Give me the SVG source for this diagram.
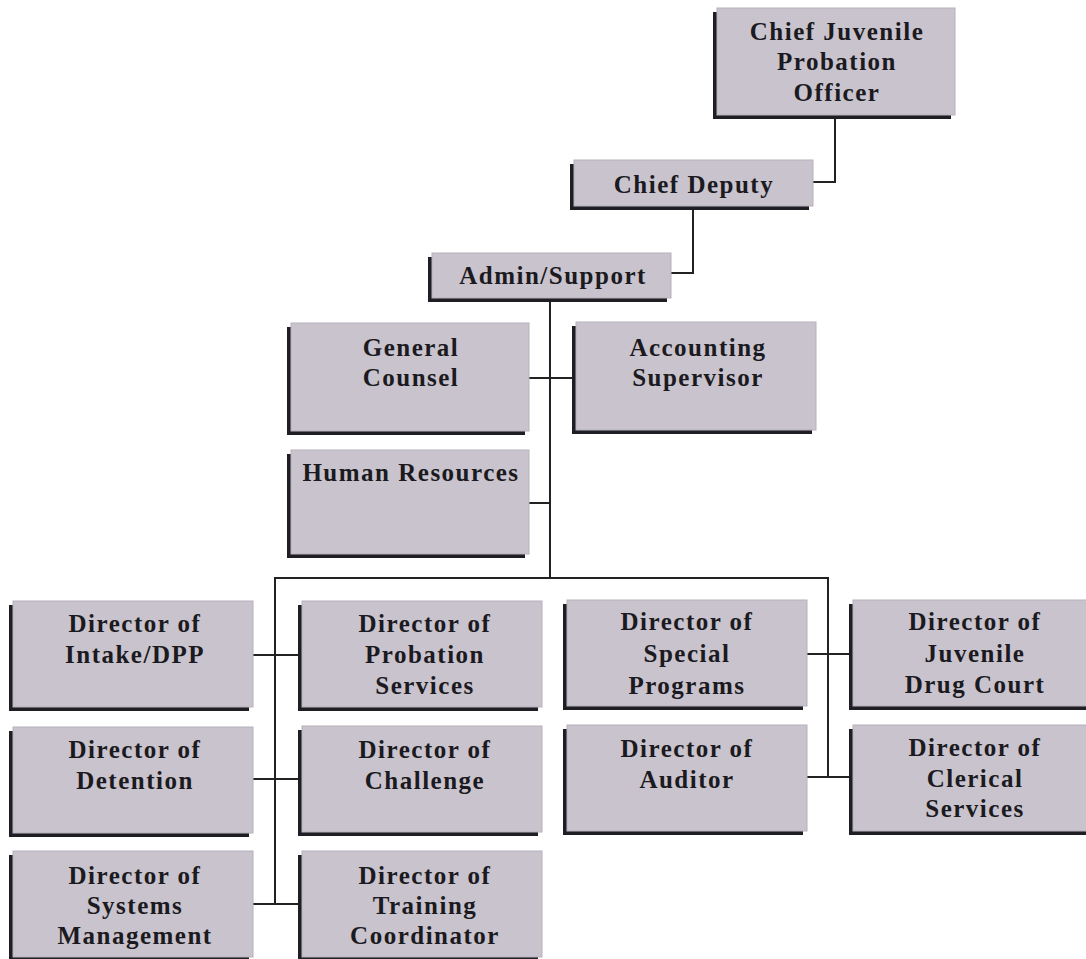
<svg xmlns="http://www.w3.org/2000/svg" width="1086" height="959" viewBox="0 0 1086 959">
<style>
.sh{fill:#1e1e24}
.bx{fill:#c9c3cd;stroke:#b7b1bb;stroke-width:1}
.t{font-family:"Liberation Serif","Times New Roman",serif;font-weight:bold;font-size:25px;letter-spacing:1.5px;fill:#1a1a20;text-anchor:middle}
.c{fill:none;stroke:#222;stroke-width:2}
</style>
<rect width="1086" height="959" fill="#ffffff"/>
<g id="connectors">
<polyline class="c" points="835,118 835,182 812,182"/>
<polyline class="c" points="693,208 693,273 670,273"/>
<line class="c" x1="550" y1="300" x2="550" y2="578"/>
<line class="c" x1="528" y1="378" x2="572" y2="378"/>
<line class="c" x1="528" y1="503" x2="550" y2="503"/>
<polyline class="c" points="275,904 275,578 828,578 828,777"/>
<line class="c" x1="252" y1="655" x2="298" y2="655"/>
<line class="c" x1="252" y1="779" x2="298" y2="779"/>
<line class="c" x1="252" y1="904" x2="298" y2="904"/>
<line class="c" x1="805" y1="654" x2="850" y2="654"/>
<line class="c" x1="805" y1="777" x2="850" y2="777"/>
</g>
<g id="chief-juvenile">
<rect class="sh" x="713" y="12" width="238" height="107"/>
<rect class="bx" x="717" y="8" width="238" height="107"/>
<text class="t" x="837" y="40">Chief Juvenile</text>
<text class="t" x="837" y="70">Probation</text>
<text class="t" x="837" y="101">Officer</text>
</g>
<g id="chief-deputy">
<rect class="sh" x="570" y="164" width="239" height="46"/>
<rect class="bx" x="574" y="160" width="239" height="46"/>
<text class="t" x="694" y="193">Chief Deputy</text>
</g>
<g id="admin-support">
<rect class="sh" x="428" y="257" width="239" height="45"/>
<rect class="bx" x="432" y="253" width="239" height="45"/>
<text class="t" x="553" y="284">Admin/Support</text>
</g>
<g id="general-counsel">
<rect class="sh" x="287" y="327" width="238" height="108"/>
<rect class="bx" x="291" y="323" width="238" height="108"/>
<text class="t" x="411" y="356">General</text>
<text class="t" x="411" y="386">Counsel</text>
</g>
<g id="accounting-supervisor">
<rect class="sh" x="572" y="326" width="240" height="108"/>
<rect class="bx" x="576" y="322" width="240" height="108"/>
<text class="t" x="698" y="356">Accounting</text>
<text class="t" x="698" y="386">Supervisor</text>
</g>
<g id="human-resources">
<rect class="sh" x="287" y="454" width="238" height="104"/>
<rect class="bx" x="291" y="450" width="238" height="104"/>
<text class="t" x="411" y="481">Human Resources</text>
</g>
<g id="intake">
<rect class="sh" x="9" y="605" width="240" height="106"/>
<rect class="bx" x="13" y="601" width="240" height="106"/>
<text class="t" x="135" y="632">Director of</text>
<text class="t" x="135" y="663">Intake/DPP</text>
</g>
<g id="probation-services">
<rect class="sh" x="298" y="605" width="240" height="106"/>
<rect class="bx" x="302" y="601" width="240" height="106"/>
<text class="t" x="425" y="632">Director of</text>
<text class="t" x="425" y="663">Probation</text>
<text class="t" x="425" y="694">Services</text>
</g>
<g id="special-programs">
<rect class="sh" x="563" y="604" width="240" height="106"/>
<rect class="bx" x="567" y="600" width="240" height="106"/>
<text class="t" x="687" y="630">Director of</text>
<text class="t" x="687" y="662">Special</text>
<text class="t" x="687" y="694">Programs</text>
</g>
<g id="drug-court">
<rect class="sh" x="849" y="604" width="240" height="106"/>
<rect class="bx" x="853" y="600" width="240" height="106"/>
<text class="t" x="975" y="630">Director of</text>
<text class="t" x="975" y="662">Juvenile</text>
<text class="t" x="975" y="693">Drug Court</text>
</g>
<g id="detention">
<rect class="sh" x="9" y="731" width="240" height="106"/>
<rect class="bx" x="13" y="727" width="240" height="106"/>
<text class="t" x="135" y="758">Director of</text>
<text class="t" x="135" y="789">Detention</text>
</g>
<g id="challenge">
<rect class="sh" x="298" y="730" width="240" height="106"/>
<rect class="bx" x="302" y="726" width="240" height="106"/>
<text class="t" x="425" y="758">Director of</text>
<text class="t" x="425" y="789">Challenge</text>
</g>
<g id="auditor">
<rect class="sh" x="563" y="729" width="240" height="106"/>
<rect class="bx" x="567" y="725" width="240" height="106"/>
<text class="t" x="687" y="757">Director of</text>
<text class="t" x="687" y="788">Auditor</text>
</g>
<g id="clerical-services">
<rect class="sh" x="849" y="729" width="240" height="106"/>
<rect class="bx" x="853" y="725" width="240" height="106"/>
<text class="t" x="975" y="756">Director of</text>
<text class="t" x="975" y="787">Clerical</text>
<text class="t" x="975" y="817">Services</text>
</g>
<g id="systems-management">
<rect class="sh" x="9" y="855" width="240" height="106"/>
<rect class="bx" x="13" y="851" width="240" height="106"/>
<text class="t" x="135" y="884">Director of</text>
<text class="t" x="135" y="914">Systems</text>
<text class="t" x="135" y="944">Management</text>
</g>
<g id="training-coordinator">
<rect class="sh" x="298" y="855" width="240" height="106"/>
<rect class="bx" x="302" y="851" width="240" height="106"/>
<text class="t" x="425" y="884">Director of</text>
<text class="t" x="425" y="914">Training</text>
<text class="t" x="425" y="944">Coordinator</text>
</g>
</svg>
